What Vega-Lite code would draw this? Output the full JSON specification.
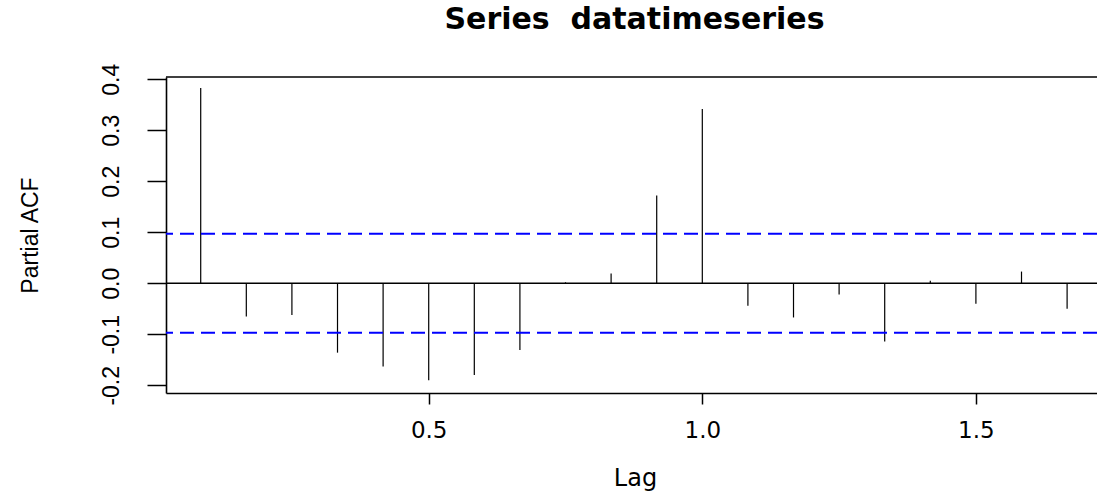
{
  "$schema": "https://vega.github.io/schema/vega-lite/v6.json",
  "width": 931,
  "height": 316,
  "autosize": {"type": "none"},
  "padding": {"left": 166, "top": 77, "right": 0, "bottom": 101},
  "background": "white",
  "title": {
    "text": "Series\u00a0 datatimeseries",
    "font": "DejaVu Sans",
    "fontSize": 30,
    "fontWeight": "bold",
    "color": "black",
    "anchor": "middle",
    "dx": 3,
    "baseline": "alphabetic",
    "offset": 4
  },
  "config": {
    "view": {"stroke": null},
    "axis": {
      "grid": false,
      "domainColor": "black",
      "domainWidth": 1.6,
      "tickColor": "black",
      "tickWidth": 1.5,
      "labelColor": "black",
      "titleColor": "black",
      "titleFontWeight": "normal"
    }
  },
  "layer": [
    {
      "data": {"values": [
        {"lag": 0.08333, "pacf": 0.383},
        {"lag": 0.16667, "pacf": -0.065},
        {"lag": 0.25, "pacf": -0.062},
        {"lag": 0.33333, "pacf": -0.136},
        {"lag": 0.41667, "pacf": -0.163},
        {"lag": 0.5, "pacf": -0.190},
        {"lag": 0.58333, "pacf": -0.180},
        {"lag": 0.66667, "pacf": -0.131},
        {"lag": 0.75, "pacf": 0.002},
        {"lag": 0.83333, "pacf": 0.019},
        {"lag": 0.91667, "pacf": 0.172},
        {"lag": 1.0, "pacf": 0.342},
        {"lag": 1.08333, "pacf": -0.044},
        {"lag": 1.16667, "pacf": -0.067},
        {"lag": 1.25, "pacf": -0.022},
        {"lag": 1.33333, "pacf": -0.114},
        {"lag": 1.41667, "pacf": 0.005},
        {"lag": 1.5, "pacf": -0.040},
        {"lag": 1.58333, "pacf": 0.023},
        {"lag": 1.66667, "pacf": -0.050}
      ]},
      "mark": {"type": "rule", "color": "black", "strokeWidth": 1.2},
      "encoding": {
        "x": {
          "field": "lag",
          "type": "quantitative",
          "scale": {"domain": [0.0199, 1.7213], "nice": false, "zero": false},
          "axis": {
            "values": [0.5, 1.0, 1.5],
            "format": ".1f",
            "title": "Lag",
            "tickSize": 11,
            "labelFont": "DejaVu Sans",
            "labelFontSize": 23,
            "labelBaseline": "alphabetic",
            "labelPadding": 33,
            "labelFlush": false,
            "titleFont": "DejaVu Sans",
            "titleFontSize": 24,
            "titleX": 469,
            "titleY": 92,
            "titleAlign": "center",
            "titleBaseline": "alphabetic"
          }
        },
        "y": {
          "field": "pacf",
          "type": "quantitative",
          "scale": {"domain": [-0.2151, 0.4045], "nice": false, "zero": false},
          "axis": {
            "values": [-0.2, -0.1, 0, 0.1, 0.2, 0.3, 0.4],
            "labelExpr": "replace(format(datum.value, '.1f'), '\u2212', '-')",
            "title": "Partial ACF",
            "tickSize": 19,
            "labelFont": "Liberation Sans",
            "labelFontSize": 23,
            "labelAngle": -90,
            "labelAlign": "center",
            "labelBaseline": "alphabetic",
            "labelPadding": 29,
            "labelFlush": false,
            "titleFont": "Liberation Sans",
            "titleFontSize": 23,
            "titleAngle": 270,
            "titleX": -129,
            "titleY": 158,
            "titleAlign": "center",
            "titleBaseline": "alphabetic"
          }
        },
        "y2": {"datum": 0}
      }
    },
    {
      "data": {"values": [{"level": 0}]},
      "mark": {"type": "rule", "color": "black", "strokeWidth": 1.5},
      "encoding": {"y": {"field": "level", "type": "quantitative", "title": "Partial ACF"}}
    },
    {
      "data": {"values": [{"level": 0.4045}]},
      "mark": {"type": "rule", "color": "black", "strokeWidth": 1.6},
      "encoding": {"y": {"field": "level", "type": "quantitative", "title": "Partial ACF"}}
    },
    {
      "data": {"values": [{"level": 0.097}, {"level": -0.097}]},
      "mark": {"type": "rule", "color": "#0000ff", "strokeWidth": 2, "strokeDash": [14, 7]},
      "encoding": {"y": {"field": "level", "type": "quantitative", "title": "Partial ACF"}}
    }
  ]
}
